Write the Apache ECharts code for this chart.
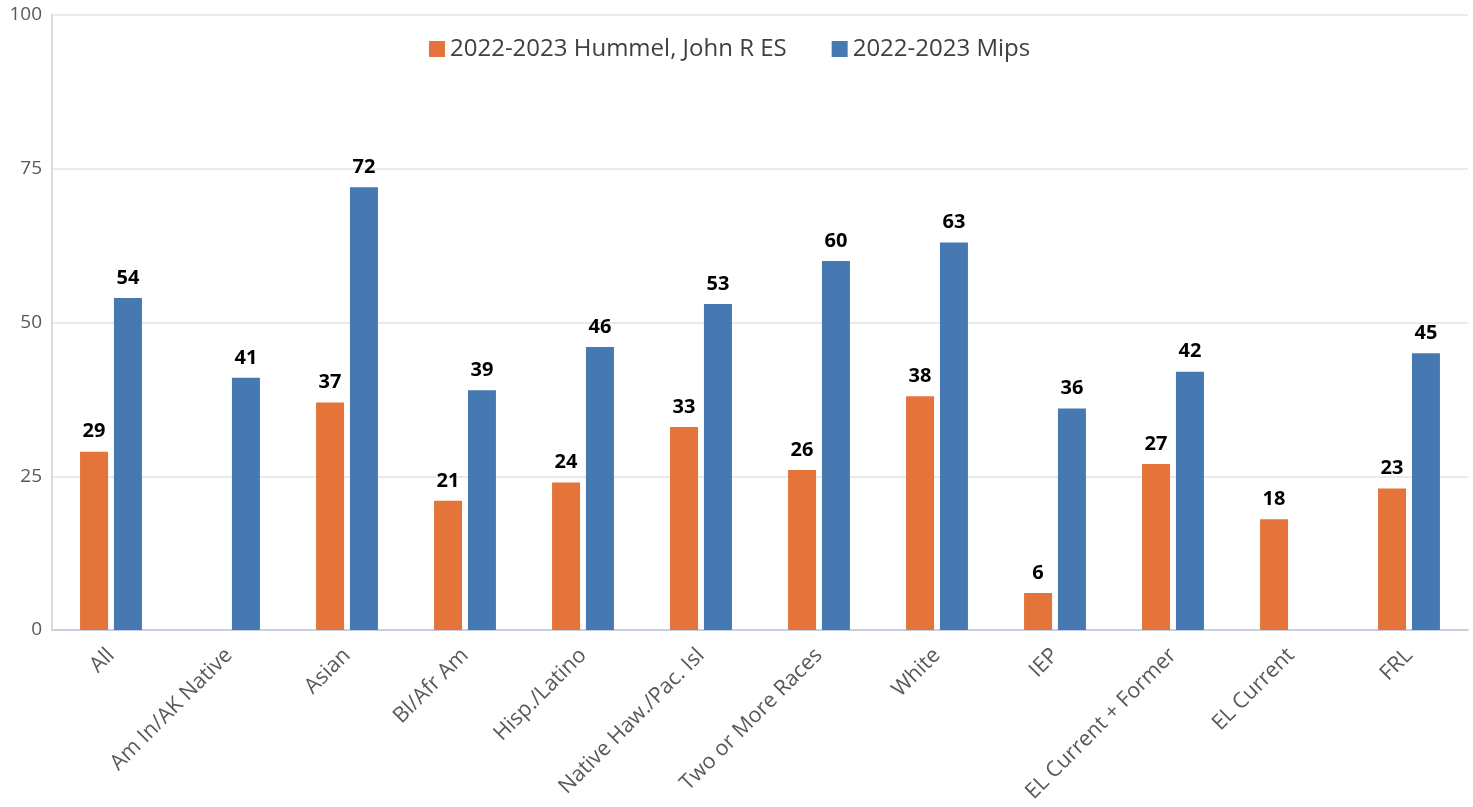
<!DOCTYPE html>
<html><head><meta charset="utf-8">
<script src="https://cdn.jsdelivr.net/npm/echarts@6/dist/echarts.min.js"></script>
<style>html,body{margin:0;padding:0;background:#fff}#c{width:1473px;height:807px}</style>
</head><body><div id="c"></div>
<script>
const categories = ['All','Am In/AK Native','Asian','Bl/Afr Am','Hisp./Latino','Native Haw./Pac. Isl','Two or More Races','White','IEP','EL Current + Former','EL Current','FRL'];
const hummel = [29, null, 37, 21, 24, 33, 26, 38, 6, 27, 18, 23];
const mips = [54, 41, 72, 39, 46, 53, 60, 63, 36, 42, null, 45];
const yTicks = [0, 25, 50, 75, 100];
const seriesNames = ['2022-2023 Hummel, John R ES', '2022-2023 Mips'];

const font = "'Open Sans', 'Noto Sans', sans-serif";
const chart = echarts.init(document.getElementById('c'));
const lbl = {show:true, position:'top', distance:10, color:'#000', fontWeight:'bold', fontSize:20, fontFamily:font};
chart.setOption({
  animation:false,
  legend:{top:32, left:424, itemWidth:16, itemHeight:16, itemGap:45, icon:'rect',
    textStyle:{fontSize:24, color:'#404040', fontFamily:font}},
  grid:{left:52, right:5, top:15, bottom:177, containLabel:false},
  xAxis:{type:'category', data:categories,
    axisLine:{lineStyle:{color:'#c8d0e0', width:2}}, axisTick:{show:false},
    axisLabel:{rotate:45, fontSize:21.5, color:'#595959', fontFamily:font, margin:22, interval:0}},
  yAxis:{type:'value', min:yTicks[0], max:yTicks[yTicks.length-1], interval:25,
    axisLine:{show:true, lineStyle:{color:'#d9d9d9', width:2}},
    splitLine:{lineStyle:{color:'#e3e3e3', width:1.5}},
    axisLabel:{fontSize:19, color:'#595959', fontFamily:font, margin:10}},
  series:[
    {name:seriesNames[0], type:'bar', data:hummel, itemStyle:{color:'#E5743A'}, barWidth:28, barGap:'21%', label:lbl},
    {name:seriesNames[1], type:'bar', data:mips, itemStyle:{color:'#4679B1'}, barWidth:28, label:lbl}
  ]
});
</script></body></html>
